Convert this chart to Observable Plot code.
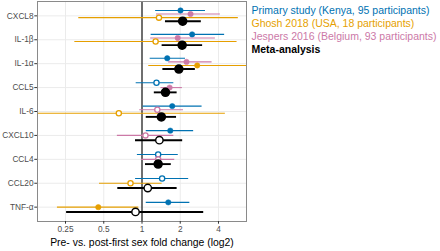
<!DOCTYPE html>
<html><head><meta charset="utf-8">
<script src="https://cdn.jsdelivr.net/npm/d3@7"></script>
<script src="https://cdn.jsdelivr.net/npm/@observablehq/plot@0.6"></script>
<style>body{margin:0;background:#fff} svg{display:block}</style>
</head><body><div id="chart"></div>
<script>
const categories = ["CXCL8","IL-1β","IL-1α","CCL5","IL-6","CXCL10","CCL4","CCL20","TNF-α"];

// Series (dodge order top to bottom within a row)
const seriesKeys = ["primary","jespers","ghosh","meta"];
const seriesColors = ["#0072B2","#CC79A7","#E69F00","#000000"];

const primaryEst = [2.01, 2.48, 1.58, 1.30, 1.73, 1.67, 1.34, 1.44, 1.61];
const primaryLo  = [1.28, 1.18, 1.16, 0.90, 1.02, 1.08, 0.92, 0.89, 1.08];
const primaryHi  = [3.16, 4.47, 2.20, 1.78, 2.97, 2.55, 1.93, 2.33, 2.38];
const primarySig = [1, 1, 1, 0, 1, 1, 0, 0, 1];

const jespersEst = [2.41, 1.91, 2.24, 1.65, 1.32, 1.065, 1.34, null, null];
const jespersLo  = [1.30, 1.17, 1.62, 1.41, 0.96, 0.64, 0.99, null, null];
const jespersHi  = [4.14, 3.78, 3.56, 2.08, 2.12, 1.78, 1.81, null, null];
const jespersSig = [1, 1, 1, 1, 0, 0, 0, null, null];

const ghoshEst = [1.36, 1.28, 2.72, null, 0.657, null, null, 0.812, 0.453];
const ghoshLo  = [0.318, 0.296, 1.13, null, 0.14, null, null, 0.463, 0.216];
const ghoshHi  = [5.73, 5.60, 6.9, null, 4.53, null, null, 1.44, 0.944];
const ghoshSig = [0, 0, 1, null, 0, null, null, 0, 1];

const metaEst = [2.09, 2.07, 1.95, 1.53, 1.42, 1.37, 1.34, 1.11, 0.889];
const metaLo  = [1.53, 1.44, 1.46, 1.25, 1.08, 0.889, 1.065, 0.645, 0.255];
const metaHi  = [2.93, 3.00, 2.63, 1.89, 1.87, 2.09, 1.70, 1.89, 3.06];
const metaSig = [1, 1, 1, 1, 1, 0, 1, 0, 0];

const legendKeys = ["primary","ghosh","jespers","meta"];
const legendLabels = ["Primary study (Kenya, 95 participants)","Ghosh 2018 (USA, 18 participants)","Jespers 2016 (Belgium, 93 participants)","Meta-analysis"];

const xTicks = [0.25, 0.5, 1, 2, 4];
const xTickLabels = ["0.25","0.5","1","2","4"];
const xTitle = "Pre- vs. post-first sex fold change (log2)";

const series = {
  primary: {est: primaryEst, lo: primaryLo, hi: primaryHi, sig: primarySig},
  jespers: {est: jespersEst, lo: jespersLo, hi: jespersHi, sig: jespersSig},
  ghosh: {est: ghoshEst, lo: ghoshLo, hi: ghoshHi, sig: ghoshSig},
  meta: {est: metaEst, lo: metaLo, hi: metaHi, sig: metaSig}
};

const dodge = 0.6;
const table = [];
categories.forEach((cat, i) => {
  const present = seriesKeys.filter(k => series[k].est[i] != null);
  const n = present.length;
  present.forEach((k, j) => {
    const s = series[k];
    table.push({cat, key: k, est: s.est[i], lo: s.lo[i], hi: s.hi[i], sig: !!s.sig[i],
      pos: i + (j - (n - 1) / 2) * dodge / n});
  });
});
const small = table.filter(d => d.key !== "meta");
const meta = table.filter(d => d.key === "meta");

const colorOf = k => seriesColors[seriesKeys.indexOf(k)];
const font = "'Liberation Sans', Arial, sans-serif";

const chart = Plot.plot({
  width: 440, height: 251,
  marginLeft: 37, marginRight: 194, marginTop: 1, marginBottom: 30,
  style: {fontFamily: font, background: "#fff"},
  x: {type: "log", base: 2, domain: [1/6.645, 6.645]},
  y: {type: "linear", domain: [-0.6, categories.length - 0.4], reverse: true},
  color: {domain: seriesKeys, range: seriesColors},
  marks: [
    Plot.gridX(xTicks, {stroke: "#ebebeb", strokeOpacity: 1, strokeWidth: 1}),
    Plot.gridY(d3.range(categories.length), {stroke: "#ebebeb", strokeOpacity: 1, strokeWidth: 1}),
    Plot.ruleX([1], {stroke: "#000", strokeWidth: 1.1}),
    Plot.ruleY(small, {y: "pos", x1: "lo", x2: "hi", stroke: "key", strokeWidth: 1.1, clip: true}),
    Plot.dot(small.filter(d => d.sig), {x: "est", y: "pos", r: 2.7, fill: "key", stroke: "key", strokeWidth: 0.5, clip: true}),
    Plot.dot(small.filter(d => !d.sig), {x: "est", y: "pos", r: 2.6, fill: "#fff", stroke: "key", strokeWidth: 1.3, clip: true}),
    Plot.ruleY(meta, {y: "pos", x1: "lo", x2: "hi", stroke: "#000", strokeWidth: 1.9, clip: true}),
    Plot.dot(meta.filter(d => d.sig), {x: "est", y: "pos", r: 4, fill: "#000", stroke: "#000", clip: true}),
    Plot.dot(meta.filter(d => !d.sig), {x: "est", y: "pos", r: 3.7, fill: "#fff", stroke: "#000", strokeWidth: 1.4, clip: true}),
    Plot.frame({stroke: "#8a8a8a", strokeWidth: 1}),
    Plot.axisX(xTicks, {tickFormat: d => xTickLabels[xTicks.indexOf(d)], tickSize: 2.7, tickPadding: 1.5, fontSize: 8.3, fill: "#4d4d4d", stroke: "#333", label: null}),
    Plot.axisY(d3.range(categories.length), {tickFormat: i => categories[i], tickSize: 2.7, tickPadding: 1.2, fontSize: 8.3, fill: "#4d4d4d", stroke: "#333", label: null}),
    Plot.text([xTitle], {text: d => d, frameAnchor: "bottom", dy: 20.7, fontSize: 10.4, fill: "#000", lineAnchor: "middle"}),
    ...legendLabels.map((lab, j) => Plot.text([lab], {text: d => d, frameAnchor: "top-right", dx: 5, dy: 9 + 13 * j,
      textAnchor: "start", lineAnchor: "middle", fontSize: 10.5, fill: colorOf(legendKeys[j]),
      fontWeight: legendKeys[j] === "meta" ? "bold" : "normal"}))
  ]
});
document.getElementById("chart").append(chart);
</script>
</body></html>
